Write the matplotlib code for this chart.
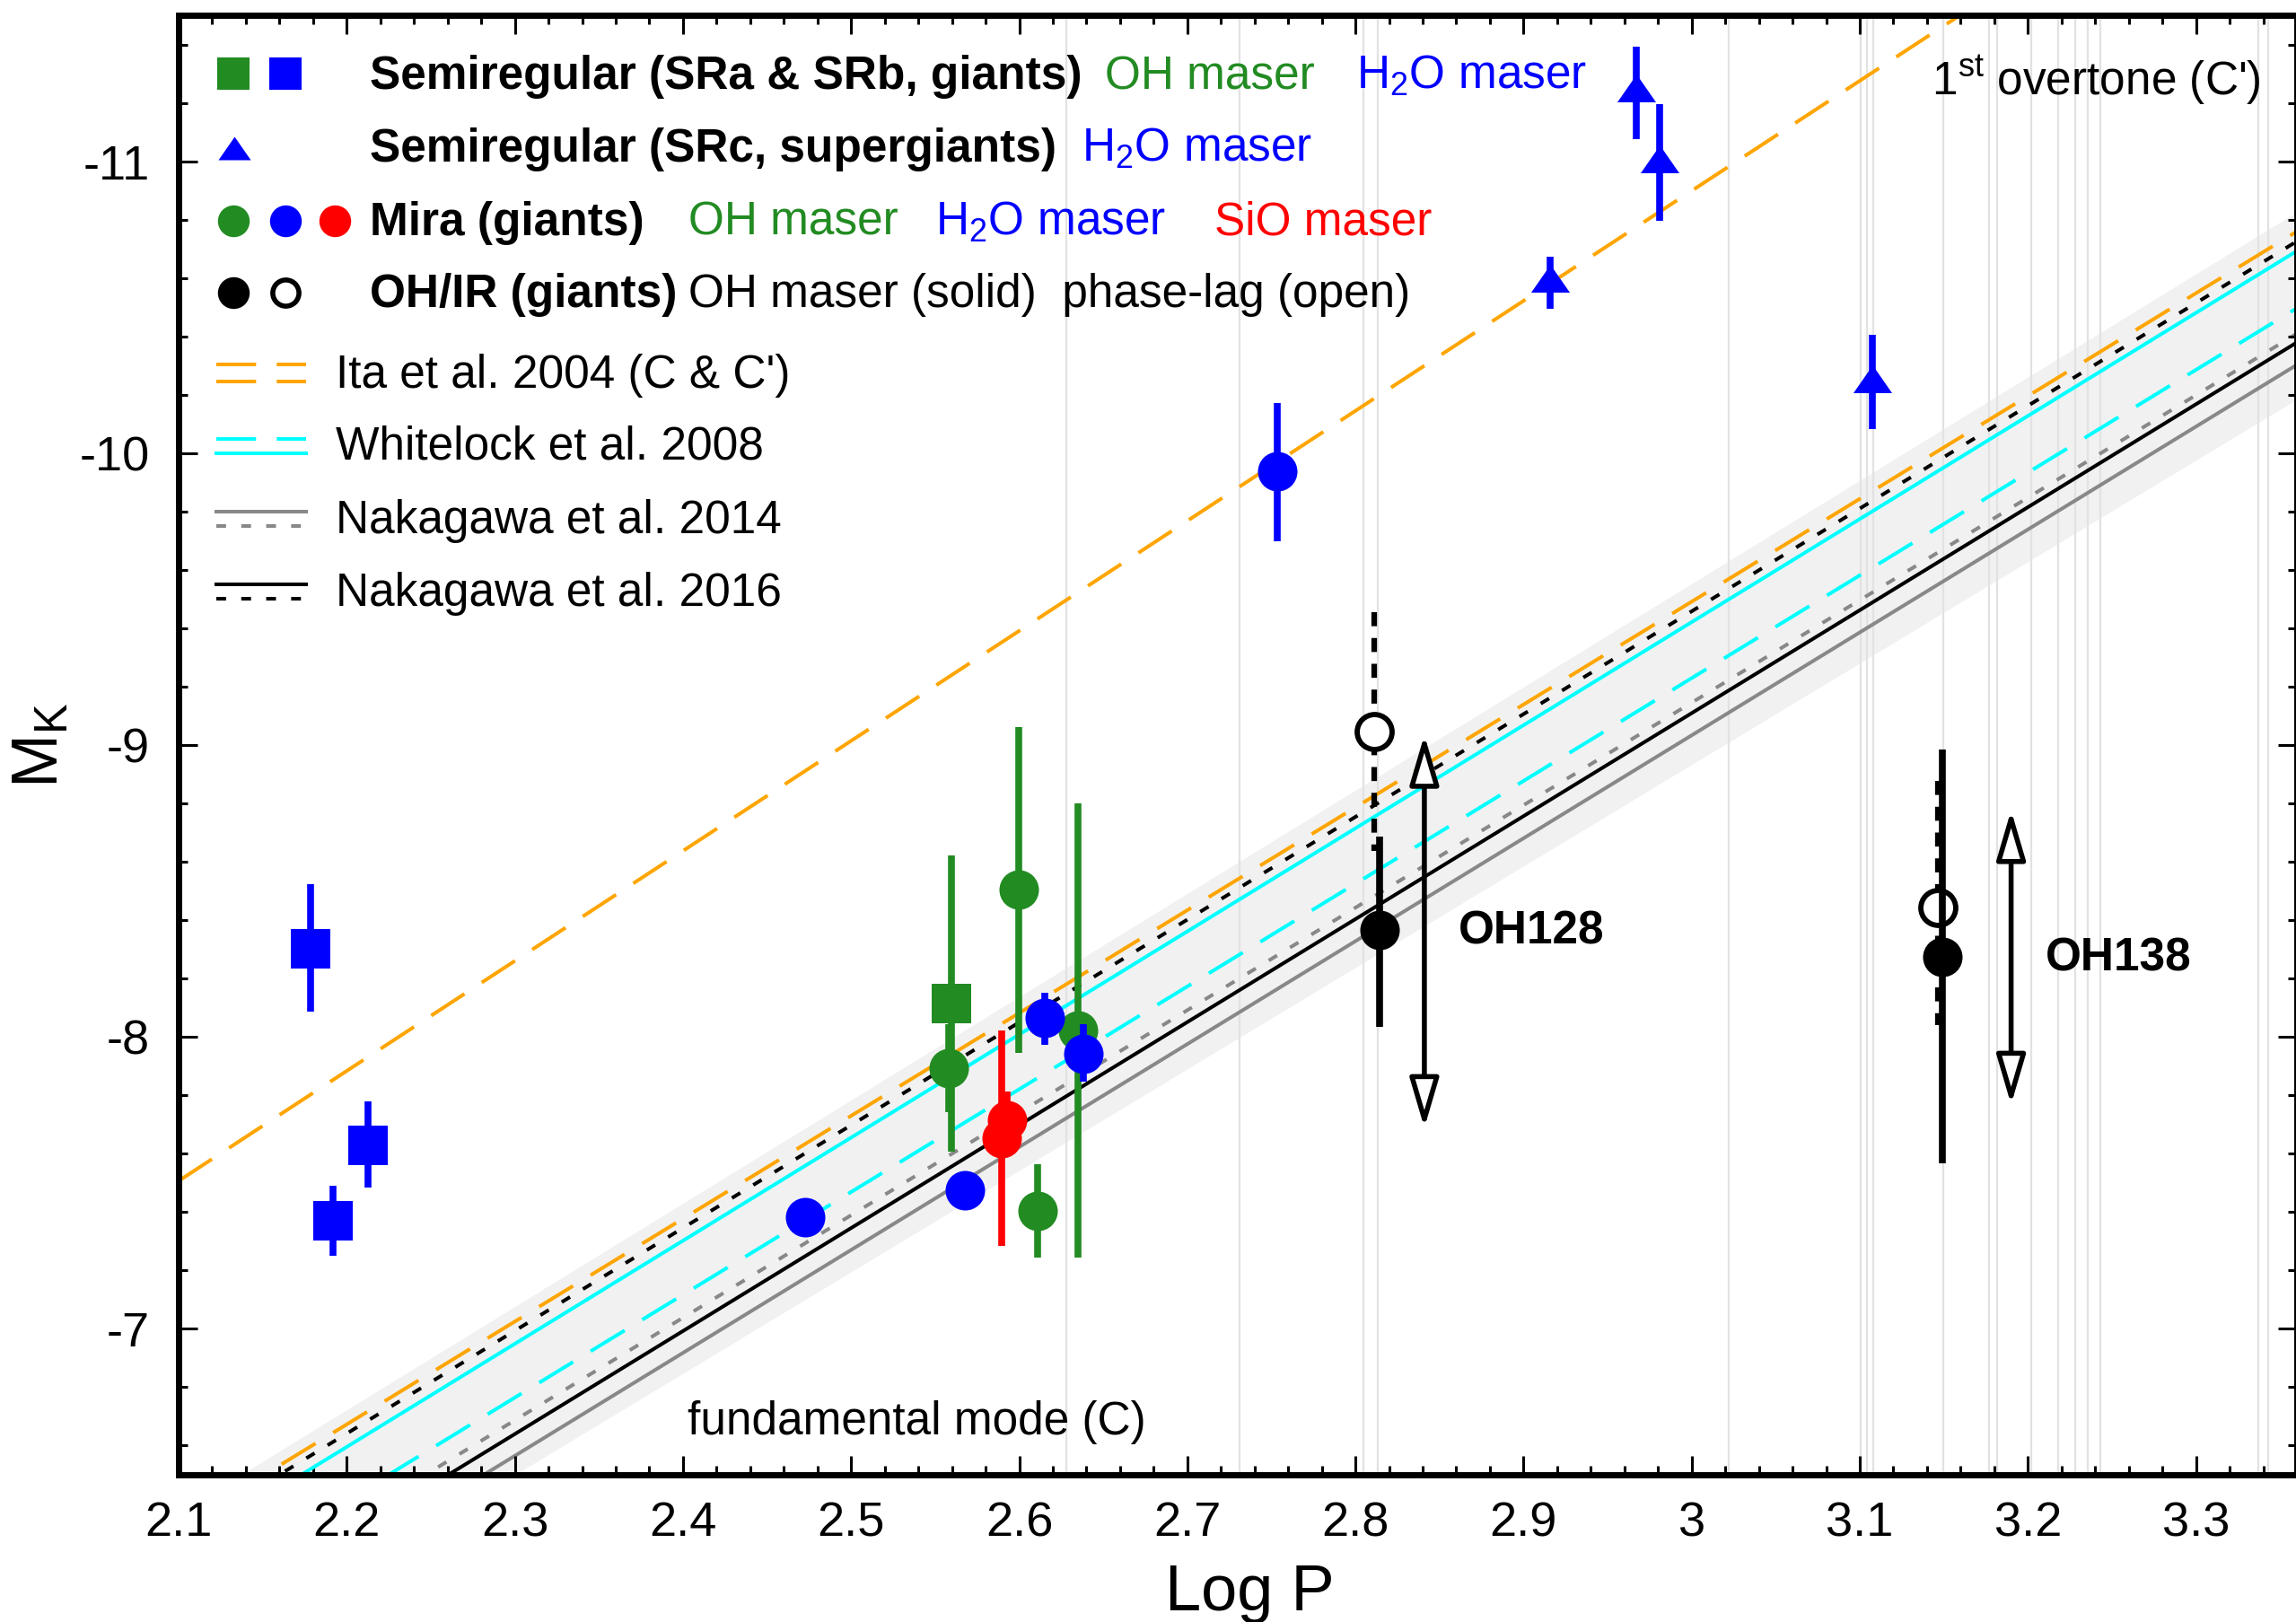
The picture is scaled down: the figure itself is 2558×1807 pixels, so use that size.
import numpy as np
import matplotlib
matplotlib.use('Agg')
import matplotlib.pyplot as plt
from matplotlib.ticker import MultipleLocator, FuncFormatter
from matplotlib.lines import Line2D

plt.rcParams['font.family'] = ['Liberation Sans', 'DejaVu Sans']
plt.rcParams['mathtext.fontset'] = 'custom'
plt.rcParams['mathtext.rm'] = 'Liberation Sans'
plt.rcParams['mathtext.it'] = 'Liberation Sans:italic'
plt.rcParams['mathtext.bf'] = 'Liberation Sans:bold'
plt.rcParams['mathtext.default'] = 'regular'
plt.rcParams['axes.unicode_minus'] = False

# ---------------- data ----------------
# Semiregular SRa/SRb, OH maser (green square)
sr_oh_logp = [2.5599]
sr_oh_mk = [-8.115]
sr_oh_em = [0.507]
sr_oh_ep = [0.507]
# Semiregular SRa/SRb, H2O maser (blue squares)
sr_h2o_logp = [2.1785, 2.192, 2.2125]
sr_h2o_mk = [-8.301, -7.371, -7.629]
sr_h2o_em = [0.222, 0.119, 0.152]
sr_h2o_ep = [0.215, 0.121, 0.146]
# Semiregular SRc supergiants, H2O maser (blue triangles)
src_logp = [2.9669, 2.981, 2.916, 3.1075]
src_mk = [-11.251, -11.010, -10.600, -10.257]
src_em = [0.144, 0.186, 0.075, 0.149]
src_ep = [0.175, 0.214, 0.105, 0.172]
# Mira, OH maser (green circles)
mira_oh_logp = [2.5579, 2.5997, 2.6348, 2.6108]
mira_oh_mk = [-7.894, -8.504, -8.022, -7.404]
mira_oh_em = [0.15, 0.559, 0.780, 0.159]
mira_oh_ep = [0.15, 0.559, 0.779, 0.161]
# Mira, H2O maser (blue circles)
mira_h2o_logp = [2.4727, 2.5677, 2.6154, 2.6383, 2.7533]
mira_h2o_mk = [-7.384, -7.474, -8.065, -7.943, -9.939]
mira_h2o_em = [0.0, 0.0, 0.088, 0.100, 0.233]
mira_h2o_ep = [0.0, 0.0, 0.091, 0.097, 0.240]
# Mira, SiO maser (red circles)
mira_sio_logp = [2.5930, 2.5894]
mira_sio_mk = [-7.715, -7.653]
mira_sio_em = [0.097, 0.369]
mira_sio_ep = [0.097, 0.369]
# OH/IR, OH maser (solid black)
ohir_logp = [2.8141, 3.1493]
ohir_mk = [-8.366, -8.276]
ohir_em = [0.322, 0.708]
ohir_ep = [0.331, 0.710]
# OH/IR, phase-lag (open)
ohir_pl_logp = [2.8114, 3.1462]
ohir_pl_mk = [-9.046, -8.445]
ohir_pl_em = [0.409, 0.432]
ohir_pl_ep = [0.409, 0.405]
# range arrows for OH/IR objects
arrow_names = ['OH128', 'OH138']
arrow_logp = [2.841, 3.19]
arrow_top = [-9.035, -8.777]
arrow_bot = [-7.689, -7.769]
# faint vertical reference lines (log P)
vline_logp = [2.6282, 2.7310, 2.8045, 2.8134, 3.0219, 3.1007, 3.1043, 3.1078,
              3.1495, 3.1768, 3.1818, 3.2017, 3.2180, 3.2280, 3.2354, 3.2429,
              3.3372, 3.3431]
# PL relations M_K = slope * logP + zp
ita_c = (-3.524, 1.080)
ita_c1 = (-3.770, 0.410)
whitelock_dash = (-3.522, 1.336)
whitelock_solid = (-3.533, 1.177)
nak14_solid = (-3.527, 1.547)
nak14_dot = (-3.513, 1.393)
nak16_solid = (-3.529, 1.477)
nak16_dot = (-3.522, 1.107)
band_upper = (-3.539, 1.063)
band_lower = (-3.477, 1.497)

xticks = [2.1, 2.2, 2.3, 2.4, 2.5, 2.6, 2.7, 2.8, 2.9, 3.0, 3.1, 3.2, 3.3]
yticks = [-11, -10, -9, -8, -7]

# ---------------- figure ----------------
W, H = 2558, 1807
fig = plt.figure(figsize=(W / 100, H / 100), dpi=100)
ax = fig.add_axes([199 / W, 1 - 1643 / H, (2559 - 199) / W, 1625.5 / H])
XL = (2.1, 3.36)
YL = (-6.5, -11.5)

def F(px, py):
    return (px / W, 1 - py / H)

GREEN = '#228b22'
BLUE = '#0000ff'
RED = '#ff0000'
ORANGE = '#ffa500'
CYAN = '#00ffff'
GRAY = '#888888'

LW = 2.9
DASH = (0, (11.0, 5.7))
DOT = (0, (2.7, 4.2))
FS = 37

xs = np.array(XL)
def rel(p):
    return p[0] * xs + p[1]

ax.fill_between(xs, rel(band_upper), rel(band_lower), color='#f1f1f1', lw=0, zorder=0.5)
for v in vline_logp:
    ax.axvline(v, color='#e2e2e2', lw=1.6, zorder=0.6)

ax.plot(xs, rel(nak14_solid), color=GRAY, lw=LW, zorder=1.5)
ax.plot(xs, rel(nak14_dot), color=GRAY, lw=LW, ls=DOT, zorder=1.5)
ax.plot(xs, rel(nak16_solid), color='black', lw=LW, zorder=1.6)
ax.plot(xs, rel(whitelock_dash), color=CYAN, lw=LW, ls=DASH, zorder=1.6)
ax.plot(xs, rel(whitelock_solid), color=CYAN, lw=LW, zorder=1.6)
ax.plot(xs, rel(nak16_dot), color='black', lw=LW, ls=DOT, zorder=1.7)
ax.plot(xs, rel(ita_c), color=ORANGE, lw=LW, ls=DASH, zorder=1.7)
ax.plot(xs, rel(ita_c1), color=ORANGE, lw=LW, ls=DASH, zorder=1.7)

MS = 31.7
ELW = 5.5
def eb(x, y, em, ep, marker, color, ms=MS, z=3):
    return ax.errorbar(x, y, yerr=[em, ep], fmt='', marker=marker, ls='none',
                       color=color, ms=ms, mew=0,
                       elinewidth=ELW, capsize=0, zorder=z)

tri = [(-1.0, -0.72), (1.0, -0.72), (0.0, 0.72), (-1.0, -0.72)]

eb(sr_h2o_logp, sr_h2o_mk, sr_h2o_em, sr_h2o_ep, 's', BLUE)
eb(sr_oh_logp, sr_oh_mk, sr_oh_em, sr_oh_ep, 's', GREEN)
eb(mira_oh_logp, mira_oh_mk, mira_oh_em, mira_oh_ep, 'o', GREEN, z=3.1)
eb(src_logp, src_mk, src_em, src_ep, tri, BLUE, ms=31)
eb(mira_h2o_logp, mira_h2o_mk, mira_h2o_em, mira_h2o_ep, 'o', BLUE, z=3.2)
eb(mira_sio_logp, mira_sio_mk, mira_sio_em, mira_sio_ep, 'o', RED, z=3.3)

# OH/IR
e_open = ax.errorbar(ohir_pl_logp, ohir_pl_mk, yerr=[ohir_pl_em, ohir_pl_ep], fmt='o',
                     color='black', mfc='white', mec='black', mew=4.2, ms=28,
                     elinewidth=4.5, capsize=0, zorder=3.4)
e_open[2][0].set_linestyle((0, (2.5, 2.1)))
eb(ohir_logp, ohir_mk, ohir_em, ohir_ep, 'o', 'black', z=3.5)

for name, x, yt, yb in zip(arrow_names, arrow_logp, arrow_top, arrow_bot):
    ax.annotate('', xy=(x, yt), xytext=(x, yb),
                arrowprops=dict(arrowstyle='<|-|>,head_length=1.7,head_width=0.5',
                                mutation_scale=20, lw=4, fc='white', ec='black',
                                shrinkA=0, shrinkB=0), zorder=3.6)

ax.set_xlim(*XL)
ax.set_ylim(*YL)
ax.set_xticks(xticks)
ax.set_yticks(yticks)
ax.xaxis.set_major_formatter(FuncFormatter(lambda v, p: f'{round(v, 2):g}'))
ax.yaxis.set_major_formatter(FuncFormatter(lambda v, p: f'{int(round(v)):d}'))
ax.xaxis.set_minor_locator(MultipleLocator(0.02))
ax.yaxis.set_minor_locator(MultipleLocator(0.2))
ax.tick_params(which='both', direction='in', top=True, right=True, width=2.2, color='black')
ax.tick_params(which='major', length=15)
ax.tick_params(which='minor', length=7)
ax.tick_params(axis='x', which='major', labelsize=39, pad=21)
ax.tick_params(axis='y', which='major', labelsize=39, pad=23)
for s in ax.spines.values():
    s.set_linewidth(5)
    s.set_zorder(5)

# axis labels
fig.text(*F(1392, 1794), 'Log P', fontsize=52, ha='center', va='baseline')
fig.text(*F(46, 830), 'M$_K$', fontsize=52, ha='center', va='center', rotation=90)

# in-plot texts
fig.text(*F(2152, 105), "1$^{st}$ overtone (C')", fontsize=FS, ha='left', va='baseline')
fig.text(*F(766, 1598), 'fundamental mode (C)', fontsize=FS, ha='left', va='baseline')
fig.text(*F(1625, 1052), 'OH128', fontsize=FS, fontweight='bold', ha='left', va='baseline')
fig.text(*F(2279, 1081), 'OH138', fontsize=FS, fontweight='bold', ha='left', va='baseline')

# ---------------- legend (manual) ----------------
def lmark(px, py, marker, color, ms, mfc=None, mew=0, mec=None):
    fig.add_artist(Line2D([px / W], [1 - py / H], transform=fig.transFigure, marker=marker,
                          color=color, ms=ms, mew=mew, mfc=mfc if mfc else color,
                          mec=mec if mec else color, ls='none'))

def lline(py, color, ls):
    fig.add_artist(Line2D([241 / W, 341 / W], [1 - py / H, 1 - py / H],
                          transform=fig.transFigure, color=color, lw=LW, ls=ls))

def ltext(px, py, s, color='black', bold=False):
    fig.text(*F(px, py), s, color=color, fontsize=FS, ha='left', va='baseline',
             fontweight='bold' if bold else 'normal')

LMS = 25.5
lmark(260, 82, 's', GREEN, LMS)
lmark(318, 82, 's', BLUE, LMS)
lmark(261, 165, tri, BLUE, 26)
lmark(260, 246, 'o', GREEN, LMS)
lmark(318, 246, 'o', BLUE, LMS)
lmark(373, 246, 'o', RED, LMS)
lmark(260, 326, 'o', 'black', LMS)
lmark(318, 326, 'o', 'black', 21, mfc='white', mew=4.0, mec='black')

ltext(412, 99, 'Semiregular (SRa & SRb, giants)', bold=True)
ltext(1231, 99, 'OH maser', GREEN)
ltext(1511, 99, 'H$_2$O maser', BLUE)
ltext(412, 180, 'Semiregular (SRc, supergiants)', bold=True)
ltext(1205, 180, 'H$_2$O maser', BLUE)
ltext(412, 262, 'Mira (giants)', bold=True)
ltext(767, 262, 'OH maser', GREEN)
ltext(1042, 262, 'H$_2$O maser', BLUE)
ltext(1353, 262, 'SiO maser', RED)
ltext(412, 342, 'OH/IR (giants)', bold=True)
ltext(767, 342, 'OH maser (solid)  phase-lag (open)')

lline(406, ORANGE, DASH)
lline(425, ORANGE, DASH)
ltext(374, 432, "Ita et al. 2004 (C & C')")
lline(489, CYAN, DASH)
lline(505, CYAN, '-')
ltext(374, 512, 'Whitelock et al. 2008')
lline(570, GRAY, '-')
lline(586, GRAY, DOT)
ltext(374, 594, 'Nakagawa et al. 2014')
lline(651, 'black', '-')
lline(667, 'black', DOT)
ltext(374, 675, 'Nakagawa et al. 2016')

fig.savefig('out.png', dpi=100)
